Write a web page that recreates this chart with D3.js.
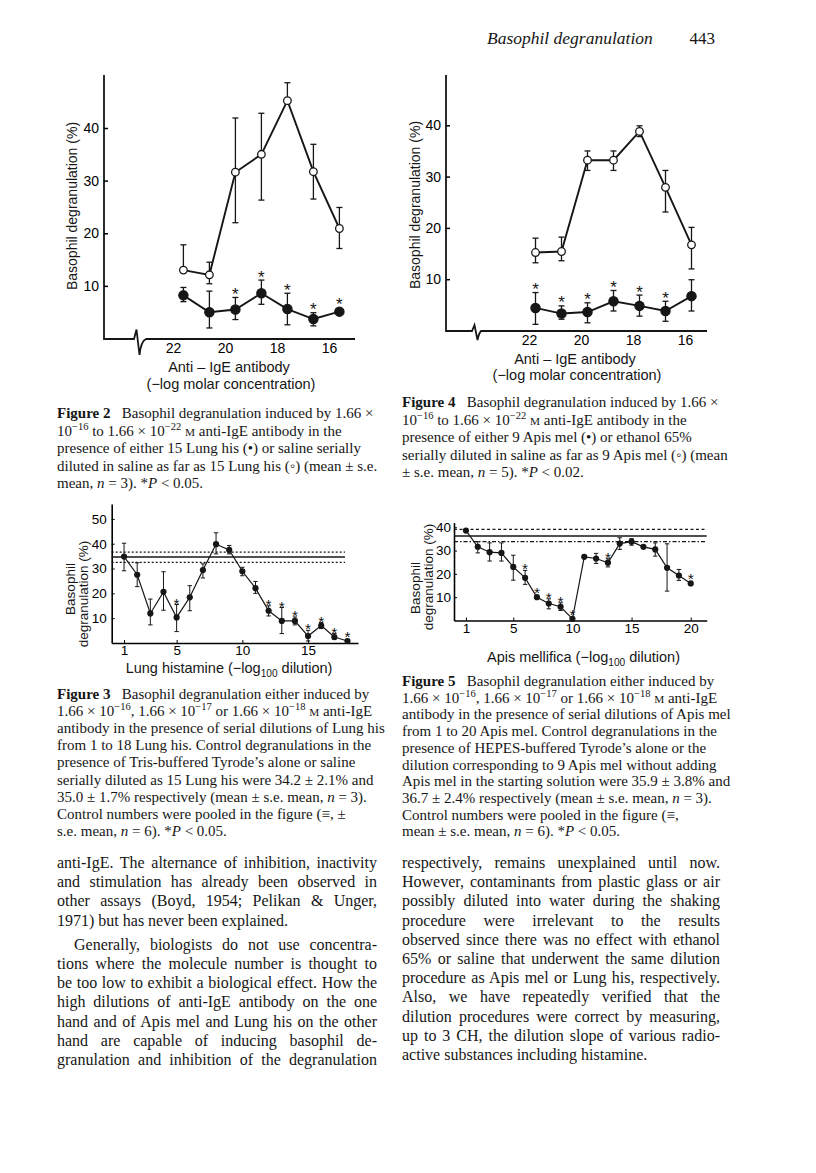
<!DOCTYPE html>
<html>
<head>
<meta charset="utf-8">
<script src="https://cdn.jsdelivr.net/npm/d3@7"></script>
<style>
  body { margin: 0; background: #fff; }
  svg { display: block; }
</style>
</head>
<body>
<script>
// ---- data ----
// Figure 2 / Figure 4: x = anti-IgE (-log molar), values in %
const fig2X = [21.6, 20.6, 19.6, 18.6, 17.6, 16.6, 15.6];
const fig4X = [21.75, 20.75, 19.75, 18.75, 17.75, 16.75, 15.75];
const igeTicks = [22, 20, 18, 16];

const fig2Open = [13.0, 12.1, 31.6, 35.0, 45.2, 31.7, 20.9];
const fig2OpenHi = [17.8, 14.5, 41.9, 42.8, 48.6, 36.9, 24.9];
const fig2OpenLo = [13.0, 10.4, 22.0, 26.3, 44.6, 26.5, 17.1];
const fig2Closed = [8.2, 5.0, 5.5, 8.6, 5.6, 3.7, 5.1];
const fig2ClosedHi = [9.7, 9.0, 7.8, 11.1, 8.6, 4.9, 5.1];
const fig2ClosedLo = [7.0, 2.0, 3.6, 6.5, 2.6, 2.4, 5.1];
const fig2Stars = [2, 3, 4, 5, 6];

const fig4Open = [15.2, 15.4, 33.2, 33.2, 38.8, 27.9, 16.7];
const fig4OpenHi = [18.0, 18.2, 35.0, 35.0, 39.9, 31.2, 20.1];
const fig4OpenLo = [13.2, 13.6, 31.2, 31.2, 37.8, 23.1, 12.0];
const fig4Closed = [4.4, 3.3, 3.6, 5.7, 4.8, 3.8, 6.7];
const fig4ClosedHi = [7.4, 4.8, 5.4, 7.8, 6.9, 5.7, 9.9];
const fig4ClosedLo = [1.2, 2.2, 1.5, 3.8, 2.8, 1.8, 3.8];
const fig4Stars = [0, 1, 2, 3, 4, 5];

// Figure 3: Lung histamine dilutions 1..18
const fig3X = d3.range(1, 19);
const fig3Y = [34.8, 27.5, 11.9, 20.6, 10.3, 18.4, 29.4, 39.8, 37.5, 28.9, 22.1, 13.0, 8.9, 8.9, 2.8, 7.0, 2.4, 0.8];
const fig3Hi = [40.2, 32.3, 17.7, 28.7, 15.5, 23.1, 31.9, 44.4, 39.3, 30.5, 24.8, 15.0, 14.3, 10.5, 5.1, 8.2, 3.8, 0.8];
const fig3Lo = [29.1, 22.7, 7.3, 13.2, 4.6, 13.0, 26.2, 35.9, 35.9, 27.1, 20.0, 10.9, 3.8, 7.3, 0.8, 5.8, 1.5, 0.8];
const fig3Stars = [4, 11, 12, 13, 14, 15, 16, 17];
const fig3Controls = [36.6, 34.6, 32.5];
const fig3XTicks = [1, 5, 10, 15];
const fig3YTicks = [10, 20, 30, 40, 50];

// Figure 5: Apis mellifica dilutions 1..20
const fig5X = d3.range(1, 21);
const fig5Y = [38.6, 31.6, 29.3, 29.0, 23.0, 18.3, 10.0, 7.3, 5.9, 0.7, 27.3, 26.6, 24.8, 33.0, 33.8, 31.6, 30.5, 22.6, 19.3, 15.9];
const fig5Hi = [38.6, 33.8, 33.3, 33.3, 28.0, 21.5, 10.0, 9.3, 7.6, 0.7, 27.3, 28.8, 26.5, 35.5, 35.1, 31.6, 33.3, 32.9, 21.9, 15.9];
const fig5Lo = [38.6, 29.0, 25.5, 25.5, 17.3, 15.5, 10.0, 5.0, 4.3, 0.7, 27.3, 24.5, 23.0, 30.5, 32.3, 31.6, 27.6, 12.6, 17.2, 15.9];
const fig5Stars = [5, 6, 7, 8, 9, 12, 19];
const fig5Controls = [39.1, 36.3, 33.8];
const fig5XTicks = [1, 5, 10, 15, 20];
const fig5YTicks = [10, 20, 30, 40];

// ---- text of the page ----
const fig2Caption = [
  "<b>Figure 2</b>\u2002 Basophil degranulation induced by 1.66 ×",
  "10<sup>−16</sup> to 1.66 × 10<sup>−22</sup> <sc>m</sc> anti-IgE antibody in the",
  "presence of either 15 Lung his (•) or saline serially",
  "diluted in saline as far as 15 Lung his (◦) (mean ± s.e.",
  "mean, <i>n</i> = 3). *<i>P</i> &lt; 0.05."
];
const fig4Caption = [
  "<b>Figure 4</b>\u2002 Basophil degranulation induced by 1.66 ×",
  "10<sup>−16</sup> to 1.66 × 10<sup>−22</sup> <sc>m</sc> anti-IgE antibody in the",
  "presence of either 9 Apis mel (•) or ethanol 65%",
  "serially diluted in saline as far as 9 Apis mel (◦) (mean",
  "± s.e. mean, <i>n</i> = 5). *<i>P</i> &lt; 0.02."
];
const fig3Caption = [
  "<b>Figure 3</b>\u2002 Basophil degranulation either induced by",
  "1.66 × 10<sup>−16</sup>, 1.66 × 10<sup>−17</sup> or 1.66 × 10<sup>−18</sup> <sc>m</sc> anti-IgE",
  "antibody in the presence of serial dilutions of Lung his",
  "from 1 to 18 Lung his. Control degranulations in the",
  "presence of Tris-buffered Tyrode’s alone or saline",
  "serially diluted as 15 Lung his were 34.2 ± 2.1% and",
  "35.0 ± 1.7% respectively (mean ± s.e. mean, <i>n</i> = 3).",
  "Control numbers were pooled in the figure (≡, ±",
  "s.e. mean, <i>n</i> = 6). *<i>P</i> &lt; 0.05."
];
const fig5Caption = [
  "<b>Figure 5</b>\u2002 Basophil degranulation either induced by",
  "1.66 × 10<sup>−16</sup>, 1.66 × 10<sup>−17</sup> or 1.66 × 10<sup>−18</sup> <sc>m</sc> anti-IgE",
  "antibody in the presence of serial dilutions of Apis mel",
  "from 1 to 20 Apis mel. Control degranulations in the",
  "presence of HEPES-buffered Tyrode’s alone or the",
  "dilution corresponding to 9 Apis mel without adding",
  "Apis mel in the starting solution were 35.9 ± 3.8% and",
  "36.7 ± 2.4% respectively (mean ± s.e. mean, <i>n</i> = 3).",
  "Control numbers were pooled in the figure (≡,",
  "mean ± s.e. mean, <i>n</i> = 6). *<i>P</i> &lt; 0.05."
];
const leftBody = [
  "anti-IgE. The alternance of inhibition, inactivity",
  "and stimulation has already been observed in",
  "other assays (Boyd, 1954; Pelikan &amp; Unger,",
  "1971) but has never been explained.",
  "Generally, biologists do not use concentra-",
  "tions where the molecule number is thought to",
  "be too low to exhibit a biological effect. How the",
  "high dilutions of anti-IgE antibody on the one",
  "hand and of Apis mel and Lung his on the other",
  "hand are capable of inducing basophil de-",
  "granulation and inhibition of the degranulation"
];
const rightBody = [
  "respectively, remains unexplained until now.",
  "However, contaminants from plastic glass or air",
  "possibly diluted into water during the shaking",
  "procedure were irrelevant to the results",
  "observed since there was no effect with ethanol",
  "65% or saline that underwent the same dilution",
  "procedure as Apis mel or Lung his, respectively.",
  "Also, we have repeatedly verified that the",
  "dilution procedures were correct by measuring,",
  "up to 3 CH, the dilution slope of various radio-",
  "active substances including histamine."
];

const SERIF = '"Liberation Serif", "Times New Roman", serif';
const SANS = '"Liberation Sans", Arial, Helvetica, sans-serif';
const INK = "#161616";

const svg = d3.select("body").append("svg")
  .attr("width", 816)
  .attr("height", 1173)
  .style("background", "#fff");

// small markup: <b> <i> <sup> <sub> <sc>
const richLine = (g, str, x, y, size, family) => {
  str = str.replace(/&lt;/g, "<").replace(/&amp;/g, "&");
  const t = g.append("text")
    .attr("x", x).attr("y", y)
    .attr("font-size", size)
    .attr("font-family", family)
    .attr("fill", INK)
    .style("white-space", "pre");
  const parts = str.split(/(<\/?(?:b|i|sup|sub|sc)>)/);
  const st = {};
  let shift = 0;
  parts.forEach(p => {
    const m = p.match(/^<(\/?)(b|i|sup|sub|sc)>$/);
    if (m) { st[m[2]] = !m[1]; return; }
    if (!p) return;
    const want = st.sup ? -0.4 * size : st.sub ? 0.25 * size : 0;
    const ts = t.append("tspan").text(st.sc ? p.toUpperCase() : p);
    if (want !== shift) { ts.attr("dy", want - shift); shift = want; }
    if (st.b) ts.attr("font-weight", "bold");
    if (st.i) ts.attr("font-style", "italic");
    if (st.sup || st.sub) ts.attr("font-size", size * 0.7);
    if (st.sc) ts.attr("font-size", size * 0.75);
  });
  return t;
};

const justify = (t, width) => {
  const len = t.node().getComputedTextLength();
  const n = (t.text().match(/ /g) || []).length;
  if (n) t.attr("word-spacing", (width - len) / n);
};

// ---- running head ----
svg.append("text").attr("x", 487).attr("y", 44)
  .attr("font-family", SERIF).attr("font-style", "italic").attr("font-size", 17.5)
  .attr("fill", INK).text("Basophil degranulation");
svg.append("text").attr("x", 715).attr("y", 44).attr("text-anchor", "end")
  .attr("font-family", SERIF).attr("font-size", 17).attr("fill", INK).text("443");

// ---- Figures 2 and 4 ----
const drawAntiIge = c => {
  const g = svg.append("g");
  const x = d3.scaleLinear().domain([22, 16]).range(c.xr);
  const y = d3.scaleLinear().domain([0, 40]).range(c.yr);
  const b = c.brk;

  g.append("path")
    .attr("d", `M${c.ax},${c.top}V${c.ay}H${b.x}L${b.x + 2.5},${c.ay - b.up}L${b.x + 5.5},${c.ay + b.down}Q${b.x + 7},${c.ay + 2} ${b.x + b.w},${c.ay}H${c.right}`)
    .attr("fill", "none").attr("stroke", INK).attr("stroke-width", 1.8);

  const ya = g.append("g").attr("transform", `translate(${c.ax},0)`)
    .call(d3.axisLeft(y).tickValues([10, 20, 30, 40]).tickSize(-4).tickPadding(5));
  ya.select(".domain").remove();
  ya.attr("font-family", SANS).attr("font-size", 14);
  ya.selectAll("line").attr("stroke-width", 1.5);

  const xa = g.append("g").attr("transform", `translate(0,${c.ay})`)
    .call(d3.axisBottom(x).tickValues(igeTicks).tickFormat(d3.format("d")).tickSize(0).tickPadding(c.xpad));
  xa.select(".domain").remove();
  xa.attr("font-family", SANS).attr("font-size", 14);

  g.append("text")
    .attr("transform", `translate(${c.yt[0]},${c.yt[1]}) rotate(-90)`)
    .attr("text-anchor", "middle").attr("font-family", SANS).attr("font-size", 14)
    .attr("fill", INK).text("Basophil degranulation (%)");
  g.append("text").attr("x", c.xt[0]).attr("y", c.xt[1])
    .attr("text-anchor", "middle").attr("font-family", SANS).attr("font-size", 14.5)
    .attr("fill", INK).text("Anti – IgE antibody");
  g.append("text").attr("x", c.xt[0] + 2).attr("y", c.xt[1] + 16.5)
    .attr("text-anchor", "middle").attr("font-family", SANS).attr("font-size", 14.5)
    .attr("fill", INK).text("(−log molar concentration)");

  const series = [
    { v: c.open, hi: c.openHi, lo: c.openLo, r: 3.8, fill: "#fff" },
    { v: c.closed, hi: c.closedHi, lo: c.closedLo, r: 4.6, fill: INK }
  ];
  const line = d3.line().x((d, i) => x(c.xs[i])).y(d => y(d));

  series.forEach(s => {
    const eg = g.append("g").attr("stroke", INK).attr("stroke-width", 1.3);
    s.v.forEach((v, i) => {
      const cx = x(c.xs[i]);
      eg.append("line").attr("x1", cx).attr("x2", cx).attr("y1", y(s.hi[i])).attr("y2", y(s.lo[i]));
      if (s.hi[i] !== v) eg.append("line").attr("x1", cx - 3).attr("x2", cx + 3).attr("y1", y(s.hi[i])).attr("y2", y(s.hi[i]));
      if (s.lo[i] !== v) eg.append("line").attr("x1", cx - 3).attr("x2", cx + 3).attr("y1", y(s.lo[i])).attr("y2", y(s.lo[i]));
    });
    g.append("path").attr("d", line(s.v)).attr("fill", "none")
      .attr("stroke", INK).attr("stroke-width", 1.9);
  });
  series.forEach(s => {
    g.append("g").selectAll("circle").data(s.v).join("circle")
      .attr("cx", (d, i) => x(c.xs[i])).attr("cy", d => y(d)).attr("r", s.r)
      .attr("fill", s.fill).attr("stroke", INK).attr("stroke-width", 1.3);
  });

  g.append("g").selectAll("text").data(c.stars).join("text")
    .attr("x", i => x(c.xs[i])).attr("y", i => Math.min(y(c.closedHi[i]), y(c.closed[i]) - 4.6) + 2.5)
    .attr("text-anchor", "middle").attr("font-family", SANS).attr("font-size", 17)
    .attr("fill", INK).text("*");
};

drawAntiIge({
  ax: 104, ay: 339, top: 75, right: 355,
  xr: [173, 329], yr: [338.5, 128], xpad: 4, xs: fig2X,
  brk: { x: 134, up: 9.5, down: 16, w: 12 },
  yt: [76.5, 206], xt: [229, 372],
  open: fig2Open, openHi: fig2OpenHi, openLo: fig2OpenLo,
  closed: fig2Closed, closedHi: fig2ClosedHi, closedLo: fig2ClosedLo,
  stars: fig2Stars
});
drawAntiIge({
  ax: 446, ay: 331, top: 75, right: 707,
  xr: [529, 685], yr: [330.5, 125.3], xpad: 4, xs: fig4X,
  brk: { x: 472, up: 6, down: 9, w: 9 },
  yt: [419.5, 205], xt: [575, 363.5],
  open: fig4Open, openHi: fig4OpenHi, openLo: fig4OpenLo,
  closed: fig4Closed, closedHi: fig4ClosedHi, closedLo: fig4ClosedLo,
  stars: fig4Stars
});

// ---- Figures 3 and 5 ----
const drawDilution = c => {
  const g = svg.append("g");
  const x = d3.scaleLinear().domain(c.xd).range([c.ax, c.right]);
  const y = d3.scaleLinear().domain([0, c.ymax]).range([c.ay, c.top]);

  const ya = g.append("g").attr("transform", `translate(${c.ax},0)`)
    .call(d3.axisLeft(y).tickValues(c.yTicks).tickSize(-3).tickPadding(c.ypad).tickSizeOuter(0));
  ya.attr("font-family", SANS).attr("font-size", 13.5);
  ya.select(".domain").attr("stroke-width", 1.6);
  const xa = g.append("g").attr("transform", `translate(0,${c.ay})`)
    .call(d3.axisBottom(x).tickValues(c.xTicks).tickSize(-3).tickPadding(c.xpad).tickSizeOuter(0));
  xa.attr("font-family", SANS).attr("font-size", 13.5);
  xa.select(".domain").attr("stroke-width", 1.6);

  // control means (solid) and s.e. bands (dashed)
  const styles = [c.dashHi, null, c.dashLo];
  c.controls.forEach((v, i) => {
    g.append("line").attr("x1", c.ax).attr("x2", c.ctrlEnd).attr("y1", y(v)).attr("y2", y(v))
      .attr("stroke", INK).attr("stroke-width", i === 1 ? 1.5 : 1.2)
      .attr("stroke-dasharray", styles[i]);
  });

  const eg = g.append("g").attr("stroke", INK).attr("stroke-width", 1);
  c.v.forEach((v, i) => {
    const cx = x(c.xs[i]);
    if (c.hi[i] === v && c.lo[i] === v) return;
    eg.append("line").attr("x1", cx).attr("x2", cx).attr("y1", y(c.hi[i])).attr("y2", y(c.lo[i]));
    eg.append("line").attr("x1", cx - 2.2).attr("x2", cx + 2.2).attr("y1", y(c.hi[i])).attr("y2", y(c.hi[i]));
    eg.append("line").attr("x1", cx - 2.2).attr("x2", cx + 2.2).attr("y1", y(c.lo[i])).attr("y2", y(c.lo[i]));
  });
  g.append("path")
    .attr("d", d3.line().x((d, i) => x(c.xs[i])).y(d => y(d))(c.v))
    .attr("fill", "none").attr("stroke", INK).attr("stroke-width", 1.2);
  g.append("g").selectAll("circle").data(c.v).join("circle")
    .attr("cx", (d, i) => x(c.xs[i])).attr("cy", d => y(d)).attr("r", 3.1).attr("fill", INK);
  g.append("g").selectAll("text").data(c.stars).join("text")
    .attr("x", i => x(c.xs[i])).attr("y", i => Math.min(y(c.hi[i]), y(c.v[i]) - 3) + 4)
    .attr("text-anchor", "middle").attr("font-family", SANS).attr("font-size", 15.5)
    .attr("fill", INK).text("*");

  richLine(g, c.title, c.xt[0], c.xt[1], 14.5, SANS).attr("text-anchor", "middle");
  g.append("text")
    .attr("transform", `translate(${c.yt1[0]},${c.yt1[1]}) rotate(-90)`)
    .attr("text-anchor", "middle").attr("font-family", SANS).attr("font-size", 13.5)
    .attr("fill", INK).text("Basophil");
  g.append("text")
    .attr("transform", `translate(${c.yt2[0]},${c.yt2[1]}) rotate(-90)`)
    .attr("text-anchor", "middle").attr("font-family", SANS).attr("font-size", 13.5)
    .attr("fill", INK).text("degranulation (%)");
};

drawDilution({
  ax: 111.7, ay: 643, top: 504, right: 358,
  xd: [0.06, 18.8], ymax: 56,
  xs: fig3X, v: fig3Y, hi: fig3Hi, lo: fig3Lo, stars: fig3Stars,
  xTicks: fig3XTicks, yTicks: fig3YTicks, ypad: 5, xpad: 2,
  controls: fig3Controls, ctrlEnd: 345, dashHi: "2,2", dashLo: "2,2",
  title: "Lung histamine (−log<sub>100</sub> dilution)", xt: [229, 673],
  yt1: [74.7, 589], yt2: [88, 594]
});
drawDilution({
  ax: 454, ay: 620.5, top: 522.6, right: 706.7,
  xd: [-0.01, 21.35], ymax: 42,
  xs: fig5X, v: fig5Y, hi: fig5Hi, lo: fig5Lo, stars: fig5Stars,
  xTicks: fig5XTicks, yTicks: fig5YTicks, ypad: 3, xpad: 3,
  controls: fig5Controls, ctrlEnd: 706.7, dashHi: "3,2.5", dashLo: "4,2,1.5,2",
  title: "Apis mellifica (−log<sub>100</sub> dilution)", xt: [583.5, 662],
  yt1: [419.7, 588], yt2: [432.7, 577]
});

// ---- captions ----
const caption = (lines, x, y0, step) => {
  const g = svg.append("g");
  lines.forEach((l, i) => richLine(g, l, x, y0 + i * step, 15, SERIF));
};
caption(fig2Caption, 57, 418, 17.6);
caption(fig4Caption, 402, 407, 17.5);
caption(fig3Caption, 57, 699, 17.1);
caption(fig5Caption, 402, 686, 16.7);

// ---- body text, justified ----
const body = (lines, x, width, y0, step, paraAt) => {
  const g = svg.append("g");
  lines.forEach((l, i) => {
    const isPara = i === paraAt;
    const yy = y0 + i * step + (paraAt >= 0 && i >= paraAt ? 5 : 0);
    const xx = isPara ? x + 17 : x;
    const t = richLine(g, l, xx, yy, 16, SERIF);
    const last = i === lines.length - 1 || i + 1 === paraAt;
    if (!last || i === lines.length - 1 && lines === leftBody) justify(t, width - (xx - x));
  });
};
body(leftBody, 57, 320, 868, 19.2, 4);
body(rightBody, 402, 318, 868, 19.2, -1);
</script>
</body>
</html>
